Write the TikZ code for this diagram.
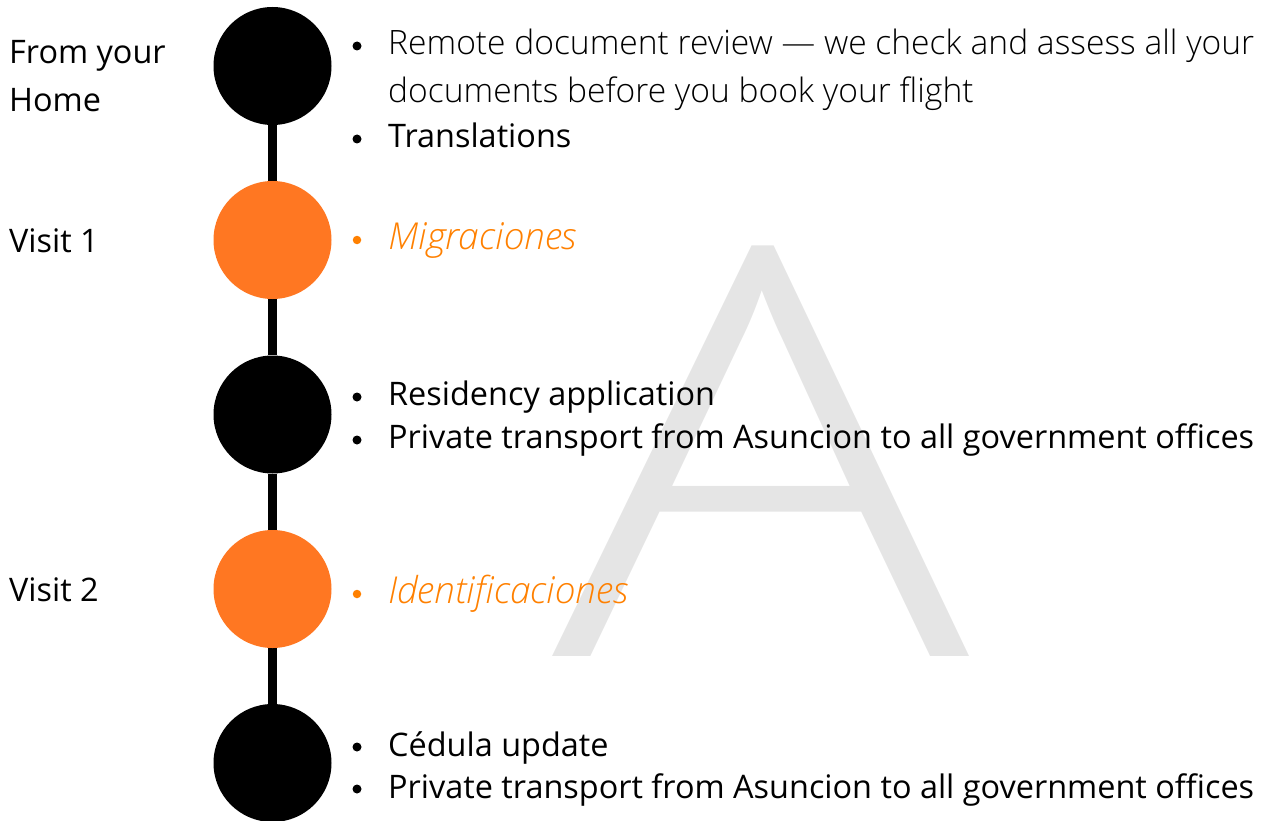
\documentclass[tikz,border=0pt]{standalone}
\usepackage{fontspec}
\setmainfont{Open Sans}
\newfontfamily\lightfont{Open Sans Light}[ItalicFont={Open Sans Light Italic}]
\usetikzlibrary{backgrounds}
\definecolor{dotorange}{HTML}{FF7722}
\definecolor{txtorange}{HTML}{FF8000}
\definecolor{wmgray}{HTML}{E5E5E5}
\newlength\reflen
\begin{document}
\settowidth\reflen{\fontsize{30}{36}\selectfont Private transport from Asuncion to all government offices}%
\pgfmathsetmacro\bodysize{866/\reflen*30}%
\settowidth\reflen{\fontsize{30}{36}\selectfont\lightfont Remote document review — we check and assess all your}%
\pgfmathsetmacro\lightsize{866/\reflen*30}%
\settowidth\reflen{\fontsize{30}{36}\selectfont\lightfont\itshape Identificaciones}%
\pgfmathsetmacro\itsize{240/\reflen*30}%
\begin{tikzpicture}[x=1pt,y=-1pt]
\tikzset{
  lbl/.style={anchor=base west, inner sep=0pt, font=\fontsize{\bodysize}{\bodysize}\selectfont},
  item/.style={lbl},
  litem/.style={lbl, font=\fontsize{\lightsize}{\lightsize}\selectfont\lightfont},
  hitem/.style={lbl, text=txtorange, font=\fontsize{\itsize}{\itsize}\selectfont\lightfont\itshape},
  bul/.style={circle, fill=black, inner sep=0pt, minimum size=9pt},
  hbul/.style={circle, fill=txtorange, inner sep=0pt, minimum size=8.5pt},
  stop/.style={circle, inner sep=0pt, minimum size=118pt, fill=black},
  hstop/.style={stop, fill=dotorange},
  link/.style={line width=8.5pt, black}
}
\useasboundingbox (0,0) rectangle (1265,821);
% watermark
\node[anchor=base, inner sep=0pt, text=wmgray] (wm) at (761.5,656) {\resizebox{417pt}{410pt}{\lightfont A}};
% timeline stops
\node[stop]  (c1) at (272.5,66) {};
\node[hstop] (c2) at (272.5,240) {};
\node[stop]  (c3) at (272.5,414.5) {};
\node[hstop] (c4) at (272.5,589) {};
\node[stop]  (c5) at (272.5,763) {};
\begin{scope}[on background layer]
\draw[link] (c1) -- (c2);
\draw[link] (c2) -- (c3);
\draw[link] (c3) -- (c4);
\draw[link] (c4) -- (c5);
\end{scope}
% left labels
\node[lbl] (home1) at (9,64) {From your};
\node[lbl] (home2) at (9,112) {Home};
\node[lbl] (v1) at (9,252) {Visit 1};
\node[lbl] (v2) at (9,601) {Visit 2};
% items
\node[bul] (b1) at (357,46) {};
\node[litem] (t1a) at (388,55) {Remote document review — we check and assess all your};
\node[litem] (t1b) at (388,103) {documents before you book your flight};
\node[bul] (b2) at (357,139) {};
\node[item] (t2) at (388,148) {Translations};
\node[hbul] (b3) at (357,240) {};
\node[hitem] (t3) at (388,249) {Migraciones};
\node[bul] (b4) at (357,397) {};
\node[item] (t4) at (388,405) {Residency application};
\node[bul] (b5) at (357,440) {};
\node[item] (t5) at (388,448) {Private transport from Asuncion to all government offices};
\node[hbul] (b6) at (357,594) {};
\node[hitem] (t6) at (388,603) {Identificaciones};
\node[bul] (b7) at (357,747) {};
\node[item] (t7) at (388,756) {Cédula update};
\node[bul] (b8) at (357,789) {};
\node[item] (t8) at (388,798) {Private transport from Asuncion to all government offices};
\end{tikzpicture}
\end{document}
